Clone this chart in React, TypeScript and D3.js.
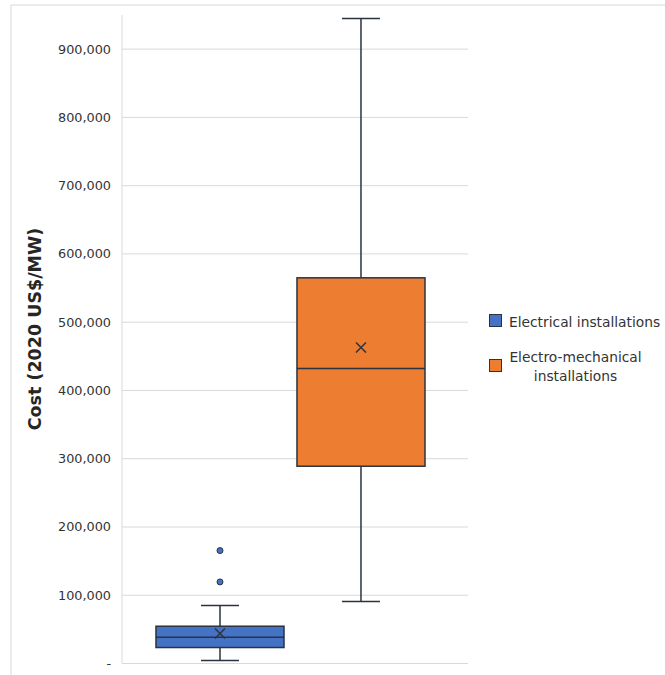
import React from "react";
import * as d3 from "d3";

const categories = ["Electrical installations", "Electro-mechanical installations"];
const legendLines = [["Electrical installations"], ["Electro-mechanical", "installations"]];
const colors = ["#4472C4", "#ED7D31"];
const whiskerMin = [4400, 91000];
const q1 = [23400, 289000];
const median = [38500, 432000];
const q3 = [54600, 565000];
const whiskerMax = [85000, 945000];
const means = [44000, 463000];
const outliers = [[119500, 165400], []];
const yTicks = [0, 100000, 200000, 300000, 400000, 500000, 600000, 700000, 800000, 900000];

const W = 665, H = 675;
const plotL = 122, plotR = 468, plotT = 15, plotB = 663.5;

export default function App() {
  const y = d3.scaleLinear().domain([0, 950000]).range([plotB, plotT]);
  const x = d3.scalePoint<string>().domain(categories).range([plotL, plotR]).padding(0.727).align(0.478);
  const step = x.step();
  const boxW = step * 0.908;
  const capW = 38;
  const fmt = d3.format(",");
  const font = "DejaVu Sans, Verdana, sans-serif";
  const stroke = "#2b3340";
  return (
    <svg width={W} height={H} style={{ position: "absolute", left: 0, top: 0 }}>
      <rect x={0} y={0} width={W} height={H} fill="#fff" />
      <line x1={11} y1={5} x2={W} y2={5} stroke="#d9d9d9" />
      <line x1={11} y1={5} x2={11} y2={H} stroke="#d9d9d9" />
      {yTicks.map((t) => (
        <g key={t}>
          {t > 0 && <line x1={plotL} x2={plotR} y1={y(t)} y2={y(t)} stroke="#d9d9d9" strokeWidth={1} />}
          <text x={111} y={y(t)} dy="0.35em" textAnchor="end" fontFamily={font} fontSize={12.8} fill="#333">
            {t === 0 ? "-" : fmt(t)}
          </text>
        </g>
      ))}
      <line x1={plotL} x2={plotL} y1={plotT} y2={plotB} stroke="#d9d9d9" />
      <line x1={plotL} x2={plotR} y1={plotB} y2={plotB} stroke="#d9d9d9" />
      <text transform={`translate(41,329) rotate(-90)`} textAnchor="middle" fontFamily={font} fontSize={17.5} fontWeight="bold" fill="#262626">
        Cost (2020 US$/MW)
      </text>
      {categories.map((c, i) => {
        const cx = x(c)!;
        return (
          <g key={c}>
            <line x1={cx} x2={cx} y1={y(whiskerMax[i])} y2={y(q3[i])} stroke={stroke} strokeWidth={1.5} />
            <line x1={cx} x2={cx} y1={y(q1[i])} y2={y(whiskerMin[i])} stroke={stroke} strokeWidth={1.5} />
            <line x1={cx - capW / 2} x2={cx + capW / 2} y1={y(whiskerMax[i])} y2={y(whiskerMax[i])} stroke={stroke} strokeWidth={1.5} />
            <line x1={cx - capW / 2} x2={cx + capW / 2} y1={y(whiskerMin[i])} y2={y(whiskerMin[i])} stroke={stroke} strokeWidth={1.5} />
            <rect x={cx - boxW / 2} y={y(q3[i])} width={boxW} height={y(q1[i]) - y(q3[i])} fill={colors[i]} stroke={stroke} strokeWidth={1.5} />
            <line x1={cx - boxW / 2} x2={cx + boxW / 2} y1={y(median[i])} y2={y(median[i])} stroke={stroke} strokeWidth={1.5} />
            <path d={`M${cx - 5},${y(means[i]) - 5}L${cx + 5},${y(means[i]) + 5}M${cx - 5},${y(means[i]) + 5}L${cx + 5},${y(means[i]) - 5}`} stroke={stroke} strokeWidth={1.5} />
            {outliers[i].map((o) => (
              <circle key={o} cx={cx} cy={y(o)} r={3} fill={colors[i]} stroke={stroke} strokeWidth={1} />
            ))}
          </g>
        );
      })}
      {legendLines.map((lines, i) => {
        const sy = i === 0 ? 314 : 359;
        return (
          <g key={i}>
            <rect x={489.5} y={sy + 0.5} width={12} height={12} fill={colors[i]} stroke={stroke} strokeWidth={1} />
            {lines.map((l, j) => (
              <text key={j} x={lines.length > 1 ? 575.5 : 509} y={i === 0 ? 326.5 : 362 + j * 19} textAnchor={lines.length > 1 ? "middle" : "start"} fontFamily={font} fontSize={13.8} fill="#333">
                {l}
              </text>
            ))}
          </g>
        );
      })}
    </svg>
  );
}
